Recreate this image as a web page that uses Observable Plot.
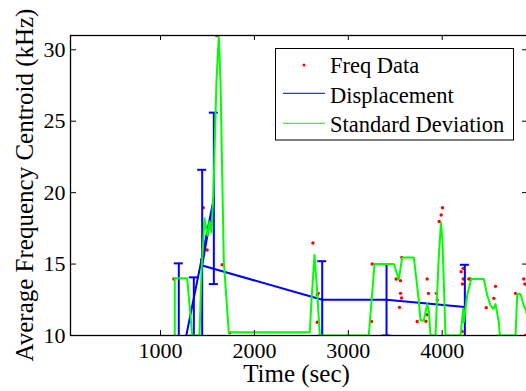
<!DOCTYPE html>
<html><head><meta charset="utf-8">
<script src="https://cdn.jsdelivr.net/npm/d3@7"></script>
<script src="https://cdn.jsdelivr.net/npm/@observablehq/plot@0.6"></script>
<style>
html,body{margin:0;padding:0;overflow:hidden;background:#fff;width:526px;height:391px}
#wrap{position:relative;width:526px;height:391px;overflow:hidden}
#wrap svg text{font-family:"Liberation Serif","Times New Roman",serif}
</style></head><body><div id="wrap"></div>
<script>
// Freq Data (red dots)
const freqTime  = [1142,1312,1437,1455,1497,1540,1597,1657,1738,2623,2669,2680,2669,2686,3247,3255,3510,3556,3556,3567,3545,3570,3734,3826,3840,3840,3854,3939,3947,3932,3968,3989,4003,4202,4224,4224,4216,4213,4238,4283,4301,4469,4550,4568,4586,4781,4869,4880,4887,4905];
const freqValue = [13.96,9.95,15.3,18.95,15.98,17.95,31.0,14.95,10.2,16.47,12.86,12.95,10.93,9.95,10.98,15.0,13.96,13.84,12.95,12.63,11.97,15.46,10.98,11.0,11.45,13.96,12.95,12.95,12.49,9.93,17.98,18.44,18.95,14.47,14.7,13.96,13.6,10.28,9.95,13.96,13.96,11.95,12.6,13.44,9.95,12.95,13.96,13.6,10.0,11.6];

// Displacement (blue line with error bars), in drawing order
const dispTime  = [1355,1195,1568,1444,2722,3407,4241];
const dispValue = [8.6,7.4,19.6,14.9,12.5,12.5,12.0];
const dispError = [5.47,7.65,6.0,6.7,2.7,2.5,2.95];

// Standard Deviation (green line)
const stdTime  = [1152,1152,1284,1338,1415,1437,1469,1500,1522,1543,1564,1596,1621,1639,1674,1727,2590,2608,2640,2661,2697,3218,3279,3485,3538,3574,3698,3751,3769,3804,3840,3857,3876,3929,3961,3987,4003,4035,4195,4224,4230,4266,4309,4443,4480,4515,4544,4568,4603,4614,4781,4799,4834,4869,4905,4940];
const stdValue = [10.0,14.0,14.0,10.0,10.0,14.5,18.2,17.0,18.0,17.2,20.1,27.8,31.0,27.8,15.2,10.23,10.23,12.44,15.63,13.8,10.0,10.0,15.0,15.0,13.95,15.46,15.46,12.44,11.05,11.05,12.2,11.74,10.0,10.0,15.2,17.9,16.6,10.0,10.0,11.86,10.93,12.8,13.96,13.96,12.8,12.1,11.86,12.2,10.93,10.0,10.0,12.9,12.9,12.1,11.6,9.5];

const xTicks = [1000,2000,3000,4000];
const yTicks = [10,15,20,25,30];
const xLabel = "Time (sec)";
const yLabel = "Average Frequency Centroid (kHz)";
const legendLabels = ["Freq Data","Displacement","Standard Deviation"];

const freq = freqTime.map((t,i)=>({t, v:freqValue[i]}));
const disp = dispTime.map((t,i)=>({t, v:dispValue[i], e:dispError[i]}));
const std = stdTime.map((t,i)=>({t, v:stdValue[i]}));

const cap = 48; // half-width of error bar caps, in time units
const FONT = '"Liberation Serif","Times New Roman",serif';

const chart = Plot.plot({
  width: 530, height: 391,
  marginLeft: 70, marginRight: 2, marginTop: 35, marginBottom: 56,
  x: {domain: [41.5, 4919]},
  y: {domain: [10, 31]},
  style: {fontFamily: FONT, fontSize: "22px", background: "#fff", maxWidth: "none", color: "#000", overflow: "hidden"},
  marks: [
    Plot.dot(freq, {x:"t", y:"v", r:1.7, fill:"#ff0000", stroke:"none", clip:true}),
    Plot.line(disp, {x:"t", y:"v", stroke:"#0000ff", strokeWidth:2, clip:true}),
    Plot.ruleX(disp, {x:"t", y1:d=>d.v-d.e, y2:d=>d.v+d.e, stroke:"#0000ff", strokeWidth:2, clip:true}),
    Plot.ruleY(disp, {y:d=>d.v+d.e, x1:d=>d.t-cap, x2:d=>d.t+cap, stroke:"#0000ff", strokeWidth:2, clip:true}),
    Plot.ruleY(disp, {y:d=>d.v-d.e, x1:d=>d.t-cap, x2:d=>d.t+cap, stroke:"#0000ff", strokeWidth:2, clip:true}),
    Plot.line(std, {x:"t", y:"v", stroke:"#00ff00", strokeWidth:2, clip:true}),
    Plot.frame({stroke:"#000", strokeWidth:1.3}),
    Plot.tickX(xTicks, {x:d=>d, insetTop:295, stroke:"#000"}),
    Plot.tickX(xTicks, {x:d=>d, insetBottom:295, stroke:"#000"}),
    Plot.tickY(yTicks, {y:d=>d, insetRight:452, stroke:"#000"}),
    Plot.tickY(yTicks, {y:d=>d, insetLeft:452, stroke:"#000"}),
    Plot.axisX({ticks:xTicks, tickSize:0, tickPadding:7, tickFormat:d=>String(d), fontSize:22, fontFamily:FONT, label:null}),
    Plot.axisY({ticks:yTicks, tickSize:0, tickPadding:5, tickFormat:d=>String(d), fontSize:22, fontFamily:FONT, label:null})
  ]
});
document.getElementById("wrap").appendChild(chart);

const svg = d3.select(chart);
svg.append("text").attr("x",296.5).attr("y",382).attr("text-anchor","middle")
  .attr("font-family",FONT).attr("font-size",25).attr("fill","#000").text(xLabel);
svg.append("text").attr("transform","translate(33,185) rotate(-90)").attr("text-anchor","middle")
  .attr("font-family",FONT).attr("font-size",25).attr("fill","#000").text(yLabel);

// legend
const lg = svg.append("g").attr("text-anchor","start");
lg.append("rect").attr("x",275.5).attr("y",48.5).attr("width",238).attr("height",91.5)
  .attr("fill","#fff").attr("stroke","#000").attr("stroke-width",1);
const rows = [73.3,102.8,131.7];
const mid = [65,93.3,123.3];
lg.append("circle").attr("cx",304).attr("cy",mid[0]).attr("r",1.5).attr("fill","#ff0000").attr("stroke","none");
lg.append("line").attr("x1",283).attr("x2",325).attr("y1",mid[1]).attr("y2",mid[1]).attr("stroke","#0000ff").attr("stroke-width",1);
lg.append("line").attr("x1",283).attr("x2",325).attr("y1",mid[2]).attr("y2",mid[2]).attr("stroke","#00ff00").attr("stroke-width",1);
legendLabels.forEach((s,i)=>{
  lg.append("text").attr("x",330).attr("y",rows[i]).attr("text-anchor","start").attr("font-family",FONT).attr("font-size",22.5).attr("fill","#000").text(s);
});
</script></body></html>
